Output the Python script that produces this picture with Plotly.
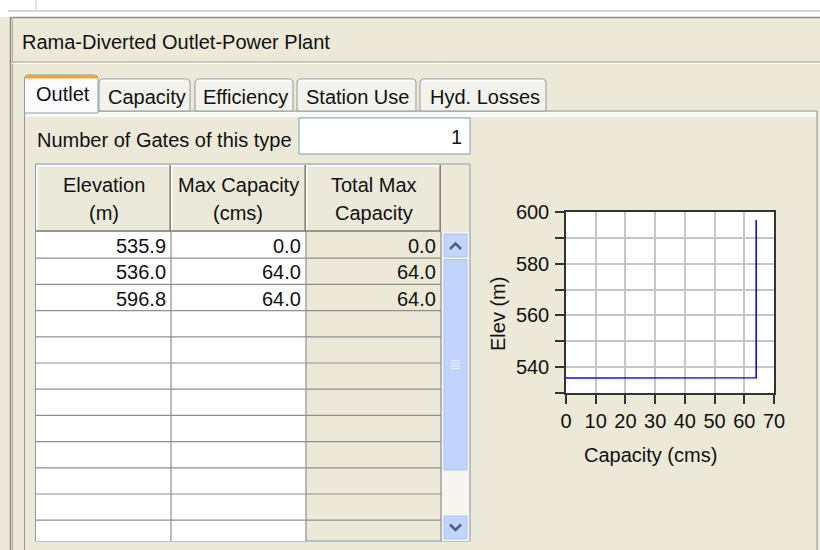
import plotly.graph_objects as go

# ---------------- data ----------------
panel_title = "Rama-Diverted Outlet-Power Plant"
tab_labels = ["Outlet", "Capacity", "Efficiency", "Station Use", "Hyd. Losses"]
gates_label = "Number of Gates of this type"
n_gates = 1
header_line1 = ["Elevation", "Max Capacity", "Total Max"]
header_line2 = ["(m)", "(cms)", "Capacity"]
elevation = [535.9, 536.0, 596.8]
max_capacity = [0.0, 64.0, 64.0]
total_capacity = [c * n_gates for c in max_capacity]
x_ticks = [0, 10, 20, 30, 40, 50, 60, 70]
y_ticks = [530, 540, 550, 560, 570, 580, 590, 600]
y_ticktext = ["", "540", "", "560", "", "580", "", "600"]
x_title = "Capacity (cms)"
y_title = "Elev (m)"

# ---------------- layout helpers ----------------
W, H = 820, 550
BEIGE = "#ECE9D8"
FONT = "Liberation Sans, Arial, sans-serif"


def px(x):
    return x / W


def py(y):
    return 1 - y / H


shapes = []
annotations = []


def rect(x0, y0, x1, y1, fill=None, line=None, lw=1):
    shapes.append(dict(type="rect", xref="paper", yref="paper",
                       x0=px(x0), x1=px(x1), y0=py(y1), y1=py(y0),
                       fillcolor=fill if fill else "rgba(0,0,0,0)",
                       line=dict(color=line if line else "rgba(0,0,0,0)", width=lw if line else 0),
                       layer="below"))


def hline(x0, x1, y, color, lw=1):
    shapes.append(dict(type="line", xref="paper", yref="paper",
                       x0=px(x0), x1=px(x1), y0=py(y), y1=py(y),
                       line=dict(color=color, width=lw), layer="below"))


def vline(x, y0, y1, color, lw=1):
    shapes.append(dict(type="line", xref="paper", yref="paper",
                       x0=px(x), x1=px(x), y0=py(y0), y1=py(y1),
                       line=dict(color=color, width=lw), layer="below"))


def path(points, fill, line, lw=1, closed=True):
    d = "M " + " L ".join(f"{px(x):.5f},{py(y):.5f}" for x, y in points)
    if closed:
        d += " Z"
    shapes.append(dict(type="path", xref="paper", yref="paper", path=d,
                       fillcolor=fill if fill else "rgba(0,0,0,0)",
                       line=dict(color=line if line else "rgba(0,0,0,0)", width=lw if line else 0),
                       layer="below"))


def tab_points(x0, x1, ytop, ybot, r=3):
    return [(x0, ybot), (x0, ytop + r), (x0 + 1, ytop + 1), (x0 + r, ytop),
            (x1 - r, ytop), (x1 - 1, ytop + 1), (x1, ytop + r), (x1, ybot)]


def text(x, y, s, anchor="left", size=20, color="#111111", angle=0):
    annotations.append(dict(xref="paper", yref="paper", x=px(x), y=py(y), text=s,
                            showarrow=False, xanchor=anchor, yanchor="middle",
                            textangle=angle, borderpad=0,
                            font=dict(family=FONT, size=size, color=color)))


# ---------------- window chrome ----------------
rect(0, 0, 820, 17, fill="#FFFFFF")
hline(8, 820, 11, "#A8A8A8")
vline(36, 0, 11, "#C8C8C8")
hline(10, 820, 17.5, "#8A8A86", 1.5)
vline(10.5, 17, 550, "#8A8A86", 1.5)
vline(12.5, 17, 550, "#B5B2A6", 1)
hline(12, 820, 62, "#A3A195", 1.2)
hline(12, 820, 63.5, "#FFFFFF", 1)
text(21, 42, panel_title)

# content panel
rect(24.5, 111, 817, 560, line="#919B9C")
rect(25.5, 112, 816, 117, fill="#F8F8F6")

# tabs
tab_x = [(99, 190), (195, 293), (297, 416), (420, 546)]
tab_cx = [146.5, 245, 357.7, 484.5]
for (x0, x1), cx, lab in zip(tab_x, tab_cx, tab_labels[1:]):
    path(tab_points(x0, x1, 79, 111), "#F3F2EC", "#919B9C")
    hline(x0 + 2, x1 - 2, 80.5, "#FFFFFF", 1.5)
    text(cx, 97, lab, anchor="center")
path(tab_points(24.5, 98, 75, 113), "#FCFCFE", "#919B9C")
path(tab_points(24.5, 98, 75, 78.5), "#F2A53A", None)
text(62.5, 94, tab_labels[0], anchor="center")

# number of gates
text(36, 140, gates_label)
rect(299, 118, 470, 154, fill="#FFFFFF", line="#7F9DB9")
text(463, 137, str(n_gates), anchor="right")

# ---------------- table ----------------
col_edges = [36, 171, 306, 441]
hdr_top, hdr_bot = 165, 231.5
row_h = 26.2
tbl_bot = 541
n_rows_visible = 12
rect(35.5, 164, 470, tbl_bot, fill=BEIGE, line="#7F9DB9")
for i in range(3):
    x0, x1 = col_edges[i], col_edges[i + 1]
    rect(x0, hdr_top, x1, hdr_bot, fill="#EBE9DA")
    hline(x0, x1 - 1, hdr_top + 0.8, "#FFFFFF", 1.5)
    vline(x0 + 0.8, hdr_top, hdr_bot - 1, "#FFFFFF", 1.5)
    vline(x1 - 0.8, hdr_top, hdr_bot, "#7E7B6E", 1.5)
    hline(x0, x1, hdr_bot - 0.5, "#7E7B6E", 1.5)
    cx = (x0 + x1) / 2
    text(cx, 185, header_line1[i], anchor="center")
    text(cx, 213, header_line2[i], anchor="center")

body_top = 232
rect(col_edges[0], body_top, col_edges[2], tbl_bot, fill="#FFFFFF")
for k in range(1, n_rows_visible):
    hline(col_edges[0], col_edges[3], body_top + k * row_h, "#8F8F8F", 1.2)
for x in col_edges[1:]:
    vline(x, body_top, tbl_bot, "#8F8F8F", 1.2)

cols = [elevation, max_capacity, total_capacity]
for r in range(len(elevation)):
    cy = body_top + (r + 0.5) * row_h + 1
    for c in range(3):
        text(col_edges[c + 1] - 4.5, cy, f"{cols[c][r]:.1f}", anchor="right")

# scrollbar
rect(442, body_top, 469, tbl_bot, fill="#F6F5F0")
rect(444, 234, 467, 257, fill="#C3D4FC", line="#ADC3F3")
path([(450, 249), (455.5, 243.5), (461, 249)], None, "#4D6185", 2.5, closed=False)
rect(444, 259.5, 467, 470, fill="#C1D3FB", line="#ADC3F3")
for gy in (361, 363.5, 366, 368.5):
    hline(451, 460, gy, "#EEF3FE", 1)
rect(444, 516, 467, 539, fill="#C3D4FC", line="#ADC3F3")
path([(450, 524.5), (455.5, 530), (461, 524.5)], None, "#4D6185", 2.5, closed=False)

# ---------------- chart ----------------
text(650.7, 455, x_title, anchor="center")
text(498, 314, y_title, anchor="center", angle=-90)

fig = go.Figure()
fig.add_trace(go.Scatter(x=total_capacity, y=elevation, mode="lines",
                         line=dict(color="#0A0AFF", width=1.6),
                         hoverinfo="skip", showlegend=False))

axis_common = dict(showgrid=True, gridcolor="#C6C6C6", gridwidth=1.5,
                   showline=True, mirror=True, linecolor="#333333", linewidth=1.5,
                   ticks="outside", ticklen=9, tickwidth=1.5, tickcolor="#333333",
                   zeroline=False, fixedrange=True, automargin=False,
                   tickfont=dict(family=FONT, size=20, color="#111111"))

fig.update_layout(
    template="none",
    width=W, height=H, autosize=False,
    margin=dict(l=0, r=0, t=0, b=0, pad=0),
    paper_bgcolor=BEIGE, plot_bgcolor="#FFFFFF",
    showlegend=False,
    xaxis=dict(domain=[px(566), px(774)], range=[0, 70],
               tickmode="array", tickvals=x_ticks,
               ticktext=[str(v) for v in x_ticks], **axis_common),
    yaxis=dict(domain=[py(393.3), py(211.7)], range=[530, 600],
               tickmode="array", tickvals=y_ticks, ticktext=y_ticktext,
               ticklabelstandoff=2, **axis_common),
    shapes=shapes,
    annotations=annotations,
)

fig.write_html("out.html", config={"displayModeBar": False},
               post_script="document.body.style.margin='0';document.body.style.padding='0';")
